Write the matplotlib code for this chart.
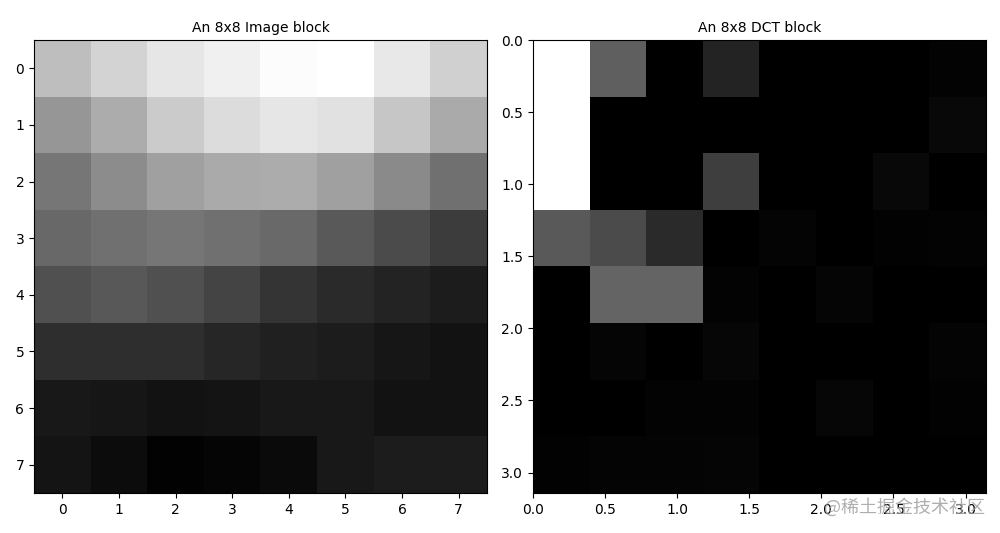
import numpy as np
import matplotlib
matplotlib.use("Agg")
import matplotlib.pyplot as plt

# Gray levels of the 8x8 image block (0-255)
image_block = [
    [190, 211, 230, 240, 252, 255, 232, 208],
    [150, 172, 203, 220, 230, 225, 198, 170],
    [118, 140, 160, 170, 172, 160, 138, 112],
    [104, 112, 118, 112, 105, 90, 75, 60],
    [80, 88, 80, 68, 52, 42, 35, 28],
    [46, 46, 46, 38, 32, 28, 22, 18],
    [24, 22, 18, 20, 24, 24, 18, 18],
    [20, 12, 2, 5, 10, 24, 28, 28],
]

# Displayed (clipped) intensities of the DCT block (0-255)
dct_block = [
    [255, 95, 0, 35, 0, 0, 0, 3],
    [255, 0, 0, 0, 0, 0, 0, 8],
    [255, 0, 0, 62, 0, 0, 8, 0],
    [90, 75, 42, 0, 4, 0, 2, 3],
    [0, 100, 100, 3, 0, 5, 0, 0],
    [0, 5, 0, 6, 0, 0, 0, 4],
    [0, 0, 3, 3, 0, 6, 0, 2],
    [2, 4, 4, 5, 0, 0, 0, 0],
]

titles = ["An 8x8 Image block", "An 8x8 DCT block"]
watermark = "@稀土掘金技术社区"

fig = plt.figure(figsize=(10, 5.33), dpi=100)
ax1 = fig.add_axes([0.034, 0.075, 0.453, 0.85])
ax2 = fig.add_axes([0.533, 0.075, 0.453, 0.85])

ax1.imshow(np.array(image_block), cmap="gray", vmin=0, vmax=255, interpolation="nearest")
ax1.set_title(titles[0], fontsize=10)
ax1.set_xticks(range(8))
ax1.set_yticks(range(8))

ax2.imshow(np.array(dct_block), cmap="gray", vmin=0, vmax=255,
           extent=[0, np.pi, np.pi, 0], interpolation="nearest")
ax2.set_title(titles[1], fontsize=10)

fig.text(0.985, 0.048, watermark, ha="right", va="center", fontsize=13,
         color="#9a9a9a", alpha=0.8, family=["Noto Sans CJK SC", "DejaVu Sans"])

fig.savefig("out.png", dpi=100)
